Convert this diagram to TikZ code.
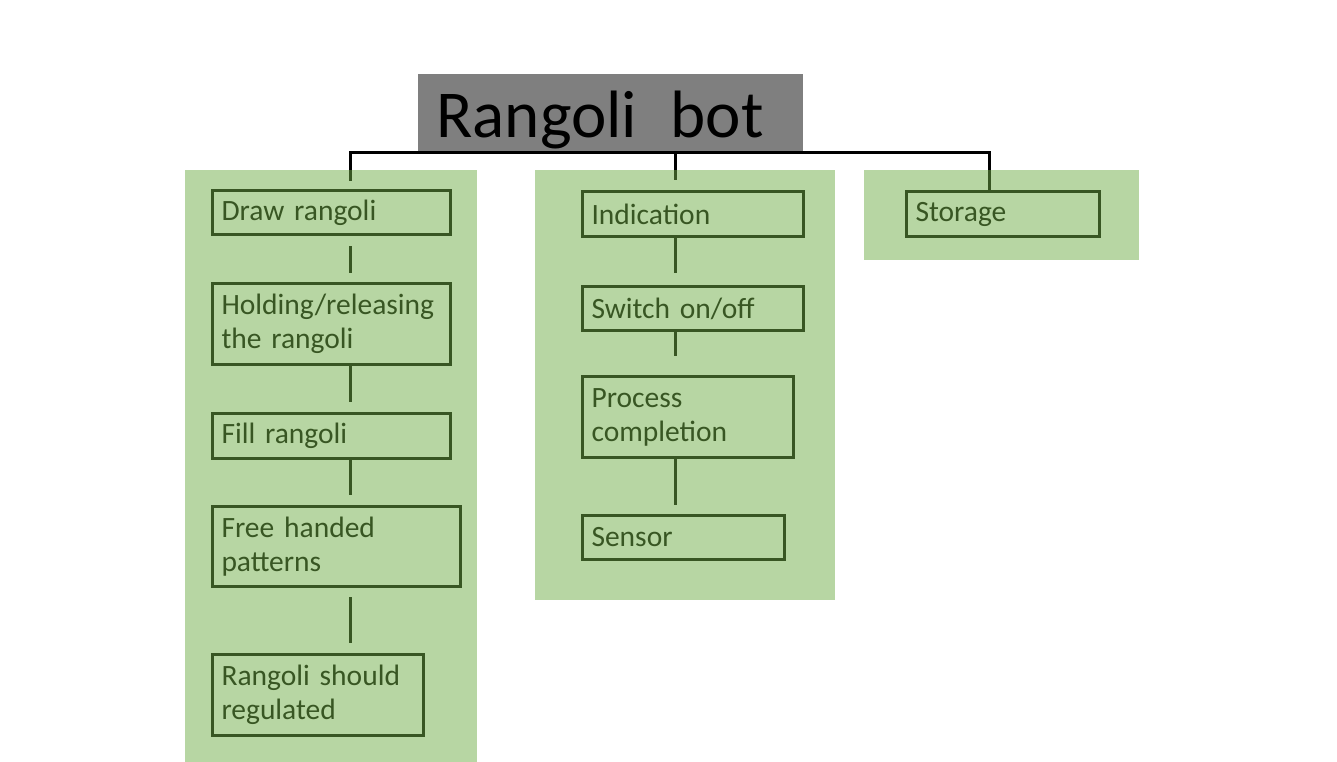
\documentclass[tikz,border=0pt]{standalone}
\usepackage{fontspec}
\setmainfont{Carlito}
\usetikzlibrary{positioning}
\definecolor{panelgreen}{HTML}{70AD47}
\definecolor{titlegray}{HTML}{7F7F7F}

\begin{document}
\begin{tikzpicture}[x=1pt,y=-1pt,line width=3pt,
  title/.style={fill=titlegray,anchor=north west,align=left,inner xsep=19pt,inner ysep=0pt,
    text width=347pt,minimum height=79pt,text height=50pt,text depth=3pt,
    font=\fontsize{67}{80}\selectfont},
  part/.style={draw,rectangle,anchor=north west,align=left,inner xsep=9pt,inner ysep=0pt,
    font=\fontsize{29.5}{34}\selectfont},
  link/.style={draw},
  panel/.style={fill=panelgreen,fill opacity=0.5}]
\useasboundingbox (0,0) rectangle (1337,762);

\node[title] (bot) at (416,73) {Rangoli\hspace{0.5em}bot};

\coordinate (trunkL) at (350,153);
\coordinate (trunkM) at (675,153);
\coordinate (trunkR) at (989,153);
\coordinate (footL) at (350,181);
\coordinate (footM) at (675,180);

% left column
\node[part,text width=220pt,minimum height=44pt] (drawr) at (211,189) {Draw rangoli};
\node[part,text width=220pt,minimum height=81pt,below=46pt of drawr.south west,anchor=north west] (hold) {Holding/releasing\\the rangoli};
\node[part,text width=220pt,minimum height=45pt,below=46pt of hold.south west,anchor=north west] (fillr) {Fill rangoli};
\node[part,text width=230pt,minimum height=80pt,below=45pt of fillr.south west,anchor=north west] (free) {Free handed\\patterns};
\node[part,text width=193pt,minimum height=81pt,below=65pt of free.south west,anchor=north west] (regul) {Rangoli should\\regulated};

% middle column
\node[part,text width=203pt,minimum height=45pt] (ind) at (581,190) {Indication};
\node[part,text width=203pt,minimum height=44pt,below=47pt of ind.south west,anchor=north west] (switch) {Switch on/off};
\node[part,text width=193pt,minimum height=81pt,below=43pt of switch.south west,anchor=north west] (proc) {Process\\completion};
\node[part,text width=184pt,minimum height=44pt,below=55pt of proc.south west,anchor=north west] (sensor) {Sensor};

% right column
\node[part,text width=175pt,minimum height=45pt] (store) at (905,190) {Storage};

\draw[link] (footL) -- (trunkL) -- (trunkR) -- (store.north -| trunkR);
\draw[link] (trunkM) -- (footM);

\draw[link,shorten <=10pt,shorten >=9pt] (drawr.south -| trunkL) -- (hold.north -| trunkL);
\draw[link,shorten >=10pt] (hold.south -| trunkL) -- (fillr.north -| trunkL);
\draw[link,shorten >=10pt] (fillr.south -| trunkL) -- (free.north -| trunkL);
\draw[link,shorten <=9pt,shorten >=10pt] (free.south -| trunkL) -- (regul.north -| trunkL);

\draw[link,shorten >=12pt] (ind.south -| trunkM) -- (switch.north -| trunkM);
\draw[link,shorten >=19pt] (switch.south -| trunkM) -- (proc.north -| trunkM);
\draw[link,shorten >=9pt] (proc.south -| trunkM) -- (sensor.north -| trunkM);

% green panels over everything
\fill[panel] (185,170) rectangle (477,762);
\fill[panel] (535,170) rectangle (835,600);
\fill[panel] (864,170) rectangle (1139,260);
\end{tikzpicture}
\end{document}
